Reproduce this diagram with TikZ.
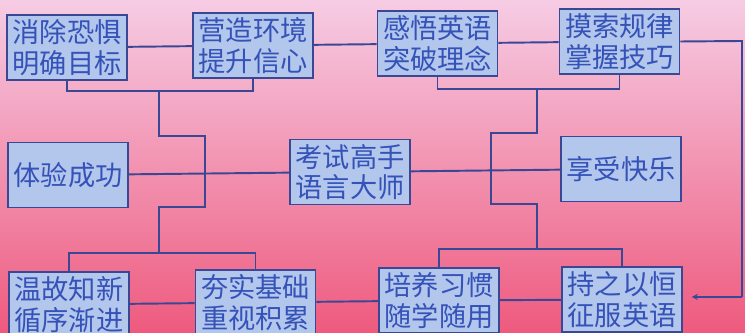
\documentclass[tikz,border=0pt]{standalone}
\usepackage{fontspec}
\newfontfamily\cjk{Noto Sans CJK SC}
\usetikzlibrary{arrows}
\definecolor{bgtop}{HTML}{F6CCE4}
\definecolor{bgmid}{HTML}{F283AE}
\definecolor{bgbot}{HTML}{EE5A7E}
\definecolor{boxfill}{HTML}{B3C6EC}
\definecolor{boxline}{HTML}{3A4794}
\definecolor{boxtext}{HTML}{3452B8}

\begin{document}
\begin{tikzpicture}[x=0.02cm,y=-0.02cm,>=stealth,line width=1.1pt,
  box/.style={draw=boxline,fill=boxfill,text=boxtext,minimum width=2.4cm,minimum height=1.3cm,
    inner sep=0pt,align=center,font=\cjk\fontsize{15.5pt}{17.5pt}\selectfont},
  link/.style={draw=boxline}]
\shade[top color=bgtop,middle color=bgmid,bottom color=bgbot] (0,0) rectangle (745,333);
\useasboundingbox (0,0) rectangle (745,333);
\clip (0,0) rectangle (745,333);

% top row
\node[box] (A1) at (67,47.5) {消除恐惧\\明确目标};
\node[box] (A2) at (253,45.5) {营造环境\\提升信心};
\node[box] (A3) at (437.5,43.5) {感悟英语\\突破理念};
\node[box] (A4) at (619.5,41.5) {摸索规律\\掌握技巧};

% middle row
\node[box] (B1) at (68,175) {体验成功};
\node[box] (B2) at (350,172) {考试高手\\语言大师};
\node[box] (B3) at (621,169) {享受快乐};

% bottom row
\node[box] (C1) at (69,304.5) {温故知新\\循序渐进};
\node[box] (C2) at (255.5,302.5) {夯实基础\\重视积累};
\node[box] (C3) at (439,300.5) {培养习惯\\随学随用};
\node[box] (C4) at (622,299.5) {持之以恒\\征服英语};

\coordinate (tl) at (159,91);
\coordinate (tl1) at (205,136);
\coordinate (tl2) at (205,207);
\coordinate (bl) at (159,253);
\coordinate (tr) at (537,89);
\coordinate (tr1) at (491,133);
\coordinate (tr2) at (491,204);
\coordinate (br) at (537,249);
\coordinate (rt) at (742,41);
\coordinate (rb) at (742,297);

\draw[link] (A1) -- (A2) -- (A3) -- (A4);
\draw[link] (B1) -- (B2) -- (B3);
\draw[link] (C1) -- (C2) -- (C3) -- (C4);

% left branch
\draw[link] (A1.south) |- (tl) -| (A2.south);
\draw[link] (tl) |- (tl1) -- (tl2) -| (bl);
\draw[link] (C1.north) |- (bl) -| (C2.north);

% right branch
\draw[link] (A3.south) |- (tr) -| (A4.south);
\draw[link] (tr) |- (tr1) -- (tr2) -| (br);
\draw[link] (C3.north) |- (br) -| (C4.north);

% loop back
\draw[link] (A4.east) -- (rt) -- (rb);
\draw[->,draw=boxline,line width=0.6pt,shorten >=5] (rb) -- (C4.east |- rb);
\end{tikzpicture}
\end{document}
